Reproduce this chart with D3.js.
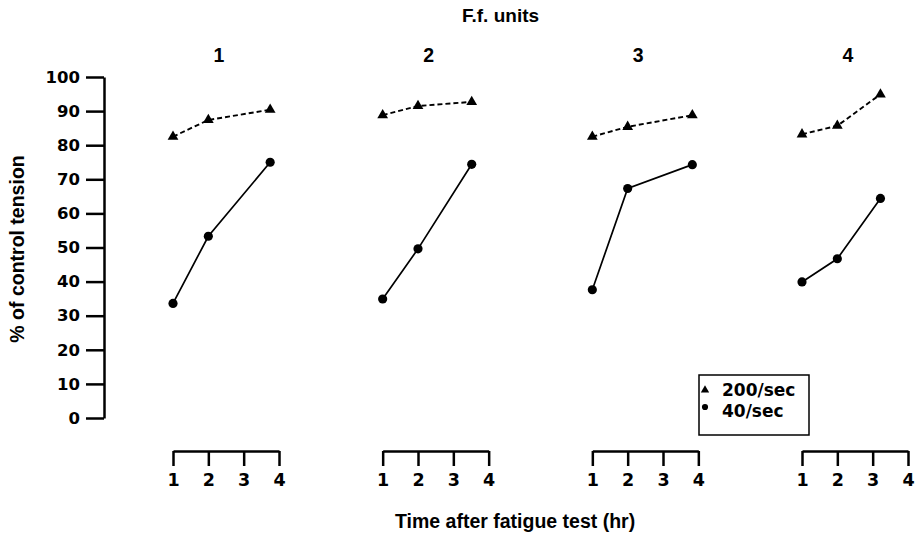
<!DOCTYPE html>
<html>
<head>
<meta charset="utf-8">
<script src="https://cdn.jsdelivr.net/npm/d3@7"></script>
<style>
  body { margin: 0; background: #fff; }
  svg { font-family: "Liberation Sans", Arial, sans-serif; font-weight: bold; }
  .num { font-family: "DejaVu Sans", sans-serif; }
</style>
</head>
<body>
<svg width="915" height="534"></svg>
<script>
const svg = d3.select("svg");

// data
const panels = ["1", "2", "3", "4"];
const timeTicks = [1, 2, 3, 4];
const yTicks = [0, 10, 20, 30, 40, 50, 60, 70, 80, 90, 100];
const times = [[1, 2, 3.75], [1, 2, 3.52], [1, 2, 3.83], [1, 2, 3.22]];
const rate200 = [[82.5, 87.4, 90.4], [88.8, 91.5, 92.7], [82.5, 85.4, 88.8], [83.2, 85.7, 94.9]];
const rate40 = [[33.6, 53.3, 75.0], [34.9, 49.6, 74.4], [37.6, 67.3, 74.3], [39.9, 46.7, 64.4]];

const y = d3.scaleLinear([0, 100], [418, 77]);
const panelX = d3.scalePoint().domain(panels).range([173, 802]);
const panelW = 106;

// y axis
const yAxis = svg.append("g")
  .attr("transform", "translate(104,0)")
  .call(d3.axisLeft(y).tickValues(yTicks).tickSize(18).tickSizeOuter(0).tickPadding(6));
yAxis.selectAll("path, line").attr("stroke", "#000").attr("stroke-width", 2.5);
yAxis.selectAll("text").attr("class", "num").attr("font-size", 16.5)
  .attr("font-weight", "bold").attr("fill", "#000");

svg.append("text")
  .attr("transform", "translate(24,249) rotate(-90)")
  .attr("text-anchor", "middle")
  .attr("font-size", 19.5)
  .text("% of control tension");

svg.append("text")
  .attr("x", 462).attr("y", 22)
  .attr("font-size", 19)
  .text("F.f. units");

svg.append("text")
  .attr("x", 395).attr("y", 528)
  .attr("font-size", 19.5)
  .text("Time after fatigue test (hr)");

const tri = d3.symbol(d3.symbolTriangle, 50);
const dot = d3.symbol(d3.symbolCircle, 66);

panels.forEach((p, i) => {
  const x0 = panelX(p);
  const x = d3.scaleLinear([1, 4], [x0, x0 + panelW]);
  const g = svg.append("g");

  g.append("text")
    .attr("x", x(2.3)).attr("y", 62)
    .attr("text-anchor", "middle")
    .attr("font-size", 19.5)
    .text(p);

  const xAxis = g.append("g")
    .attr("transform", "translate(0,451)")
    .call(d3.axisBottom(x).tickValues(timeTicks).tickFormat(d3.format("d"))
      .tickSize(15).tickSizeOuter(0).tickPadding(8));
  xAxis.selectAll("path, line").attr("stroke", "#000").attr("stroke-width", 2.5);
  xAxis.selectAll("text").attr("class", "num").attr("font-size", 17.5)
    .attr("font-weight", "bold").attr("fill", "#000");

  const pts200 = times[i].map((t, j) => [x(t), y(rate200[i][j])]);
  const pts40 = times[i].map((t, j) => [x(t), y(rate40[i][j])]);

  g.append("path")
    .attr("d", d3.line()(pts200))
    .attr("fill", "none")
    .attr("stroke", "#000")
    .attr("stroke-width", 1.9)
    .attr("stroke-dasharray", "5,3");

  g.append("path")
    .attr("d", d3.line()(pts40))
    .attr("fill", "none")
    .attr("stroke", "#000")
    .attr("stroke-width", 1.7);

  g.selectAll(".tri").data(pts200).join("path")
    .attr("transform", d => `translate(${d[0]},${d[1]})`)
    .attr("d", tri);

  g.selectAll(".dot").data(pts40).join("path")
    .attr("transform", d => `translate(${d[0]},${d[1]})`)
    .attr("d", dot);
});

// legend
const legend = svg.append("g").attr("transform", "translate(699,375)");
legend.append("rect")
  .attr("width", 110).attr("height", 60)
  .attr("fill", "none").attr("stroke", "#000").attr("stroke-width", 1.5);
legend.append("path").attr("transform", "translate(6,15)").attr("d", d3.symbol(d3.symbolTriangle, 30));
legend.append("path").attr("transform", "translate(6,32)").attr("d", d3.symbol(d3.symbolCircle, 30));
legend.append("text").attr("class", "num").attr("x", 23).attr("y", 21)
  .attr("font-size", 17).text("200/sec");
legend.append("text").attr("class", "num").attr("x", 23).attr("y", 42)
  .attr("font-size", 17).text("40/sec");
</script>
</body>
</html>
